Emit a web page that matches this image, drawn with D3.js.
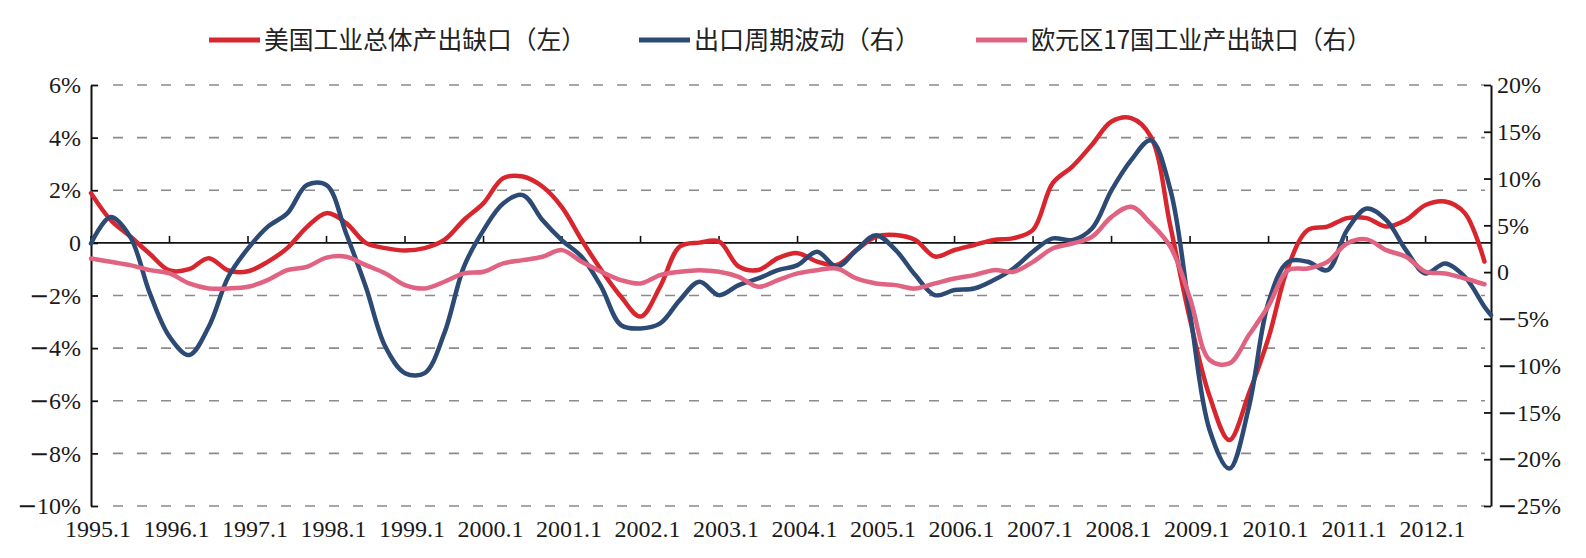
<!DOCTYPE html>
<html>
<head>
<meta charset="utf-8">
<script src="https://cdn.jsdelivr.net/npm/d3@7"></script>
<style>
body{margin:0;background:#fff;}
</style>
</head>
<body>
<div id="root"></div>
<script>
//data (quarterly)
var months=['1995.1','1995.4','1995.7','1995.10','1996.1','1996.4','1996.7','1996.10',
 '1997.1','1997.4','1997.7','1997.10','1998.1','1998.4','1998.7','1998.10',
 '1999.1','1999.4','1999.7','1999.10','2000.1','2000.4','2000.7','2000.10',
 '2001.1','2001.4','2001.7','2001.10','2002.1','2002.4','2002.7','2002.10',
 '2003.1','2003.4','2003.7','2003.10','2004.1','2004.4','2004.7','2004.10',
 '2005.1','2005.4','2005.7','2005.10','2006.1','2006.4','2006.7','2006.10',
 '2007.1','2007.4','2007.7','2007.10','2008.1','2008.4','2008.7','2008.10',
 '2009.1','2009.4','2009.7','2009.10','2010.1','2010.4','2010.7','2010.10',
 '2011.1','2011.4','2011.7','2011.10','2012.1','2012.4','2012.7','2012.10','2012.11'];

//美国工业总体产出缺口 (left axis, %)
var usGap=[1.89,0.87,0.24,-0.42, -1.05,-1.0,-0.58,-1.05, -1.08,-0.72,-0.2,0.6,
 1.13,0.75,0.0,-0.2, -0.29,-0.2,0.11,0.87, 1.51,2.46,2.52,2.14,
 1.35,0.11,-1.03,-2.04, -2.8,-1.66,-0.14,0.01, 0.05,-0.9,-1.03,-0.58,
 -0.39,-0.71,-0.84,-0.27, 0.24,0.3,0.11,-0.52, -0.27,-0.08,0.11,0.18,
 0.5,2.27,2.9,3.73, 4.61,4.74,4.04,0.62, -2.92,-5.84,-7.49,-5.72,
 -3.6,-0.9,0.49,0.62, 0.94,0.94,0.62,0.87, 1.44,1.57,1.13,-0.71, null];

//出口周期波动 (right axis, %)
var exportCycle=[3.06,5.9,3.77,-2.28, -6.9,-8.87,-5.84,-0.5, 2.53,4.84,6.27,9.3,
 9.3,4.13,-1.57,-7.98, -10.8,-10.8,-6.55,0.57, 4.49,7.34,8.23,5.56,
 3.4,1.64,-1.57,-5.66, -6.02,-5.48,-2.99,-1.03, -2.46,-1.39,-0.68,0.21,
 0.75,2.17,0.57,2.35, 3.95,2.35,-0.32,-2.46, -1.92,-1.75,-0.85,0.39,
 2.2,3.6,3.42,4.67, 8.76,11.97,14.1,8.76, -4.42,-16.9,-21,-14.4,
 -3.2,1.1,1.1,0.21, 4.49,6.8,5.56,2.35, -0.14,0.93,-0.5,-3.7, -4.6];

//欧元区17国工业产出缺口 (right axis, %)
var euroGap=[1.46,1.1,0.75,0.21, -0.14,-1.21,-1.75,-1.75, -1.57,-0.85,0.21,0.57,
 1.55,1.64,0.75,-0.14, -1.39,-1.75,-1.03,-0.14, 0.04,0.93,1.28,1.64,
 2.35,1.1,0.04,-0.85, -1.21,-0.32,0.04,0.21, 0.04,-0.5,-1.57,-0.85,
 -0.14,0.21,0.39,-0.68, -1.21,-1.39,-1.75,-1.21, -0.68,-0.32,0.21,0.04,
 1.1,2.53,3.06,3.77, 5.91,6.98,5.2,2.71, -2.81,-9.4,-9.76,-6.73,
 -3.6,0.21,0.39,1.1, 3.06,3.5,2.35,1.64, 0.04,-0.14,-0.68,-1.3, null];

var yearTicks=['1995.1','1996.1','1997.1','1998.1','1999.1','2000.1','2001.1','2002.1','2003.1',
 '2004.1','2005.1','2006.1','2007.1','2008.1','2009.1','2010.1','2011.1','2012.1'];
var leftTicks=[6,4,2,0,-2,-4,-6,-8,-10];
var rightTicks=[20,15,10,5,0,-5,-10,-15,-20,-25];
var seriesNames=['美国工业总体产出缺口（左）','出口周期波动（右）','欧元区17国工业产出缺口（右）'];
var seriesColors=['#d8262f','#2c4a74','#e06381'];

//boilerplate
var margin={t:85,r:95,b:52,l:91};
var W=1586,H=558;
var w=W-margin.l-margin.r;
var h=H-margin.t-margin.b;

var root=d3.select('#root').append('svg').attr('width',W).attr('height',H);
var svg=root.append('g').attr('transform','translate('+margin.l+','+margin.t+')');

var monthIndex=function(s){var p=s.split('.');return (+p[0]-1995)*12+(+p[1]-1);};

var xScale=d3.scaleLinear().domain([0,monthIndex('2012.11')]).range([0,w]);
var yLeft=d3.scaleLinear().domain([-10,6]).range([h,0]);
var yRight=d3.scaleLinear().domain([-25,20]).range([h,0]);

var pct=function(d){return d==0?'0':Math.abs(d)+'%';};
var numFont='"Liberation Serif","Times New Roman",serif';

//dashed grid
svg.append('g').selectAll('line').data(leftTicks.filter(function(d){return d!=0;})).enter()
  .append('line')
  .attr('x1',22).attr('x2',w-6)
  .attr('y1',function(d){return yLeft(d);}).attr('y2',function(d){return yLeft(d);})
  .attr('stroke','#8a8a8a').attr('stroke-width',1.6).attr('stroke-dasharray','10,14');

//zero line with year ticks
svg.append('line').attr('x1',0).attr('x2',w).attr('y1',yLeft(0)).attr('y2',yLeft(0))
  .attr('stroke','#111').attr('stroke-width',1.6);
svg.append('g').selectAll('line').data(yearTicks).enter().append('line')
  .attr('x1',function(d){return xScale(monthIndex(d));})
  .attr('x2',function(d){return xScale(monthIndex(d));})
  .attr('y1',yLeft(0)).attr('y2',yLeft(0)-7)
  .attr('stroke','#111').attr('stroke-width',1.6);

//axes
var leftAxis=svg.append('g').call(d3.axisLeft(yLeft).tickValues(leftTicks).tickFormat(pct)
  .tickSizeInner(-7).tickSizeOuter(0).tickPadding(10));
var rightAxis=svg.append('g').attr('transform','translate('+w+',0)')
  .call(d3.axisRight(yRight).tickValues(rightTicks).tickFormat(pct)
  .tickSizeInner(-7).tickSizeOuter(0).tickPadding(6));
[leftAxis,rightAxis].forEach(function(a){
  a.select('.domain').attr('stroke','#111').attr('stroke-width',2);
  a.selectAll('.tick line').attr('stroke','#111').attr('stroke-width',1.8);
  a.selectAll('.tick text').attr('font-family',numFont).attr('font-size',24).attr('fill','#1a1a1a')
    .each(function(d){
      //rebuild so negatives get the long minus sign of the original
      var t=d3.select(this);
      t.text('');
      if(d<0){t.append('tspan').attr('font-family','"DejaVu Serif",serif').text('\u2212');}
      t.append('tspan').text(pct(d));
    });
});

//x labels
svg.append('g').selectAll('text').data(yearTicks).enter().append('text')
  .attr('x',function(d){return xScale(monthIndex(d))+7;})
  .attr('y',h+31)
  .attr('text-anchor','middle')
  .attr('font-family',numFont).attr('font-size',24).attr('fill','#1a1a1a')
  .text(function(d){return d;});

//lines
var seriesData=[
  {vals:usGap,scale:yLeft},
  {vals:exportCycle,scale:yRight},
  {vals:euroGap,scale:yRight}
];
seriesData.forEach(function(s,i){
  var pts=months.map(function(m,j){return {m:monthIndex(m),v:s.vals[j]};});
  var line=d3.line()
    .defined(function(d){return d.v!=null;})
    .x(function(d){return xScale(d.m);})
    .y(function(d){return s.scale(d.v);})
    .curve(d3.curveCatmullRom.alpha(0.5));
  svg.append('path').datum(pts)
    .attr('d',line)
    .attr('fill','none')
    .attr('stroke',seriesColors[i])
    .attr('stroke-width',4.5)
    .attr('stroke-linejoin','round')
    .attr('stroke-linecap','round');
});

//legend
var legendX=[209,639,976];
var legendW=[322,226,340];
var legend=root.append('g').selectAll('g').data(seriesNames).enter().append('g')
  .attr('transform',function(d,i){return 'translate('+legendX[i]+',40)';});
legend.append('line').attr('x1',0).attr('x2',51).attr('y1',0).attr('y2',0)
  .attr('stroke',function(d,i){return seriesColors[i];}).attr('stroke-width',5);
legend.append('text').attr('x',55).attr('y',0).attr('dy','0.36em')
  .attr('font-family','"Noto Sans CJK SC",sans-serif').attr('font-size',25).attr('fill','#222')
  .attr('textLength',function(d,i){return legendW[i];}).attr('lengthAdjust','spacingAndGlyphs')
  .text(function(d){return d;});
</script>
</body>
</html>
